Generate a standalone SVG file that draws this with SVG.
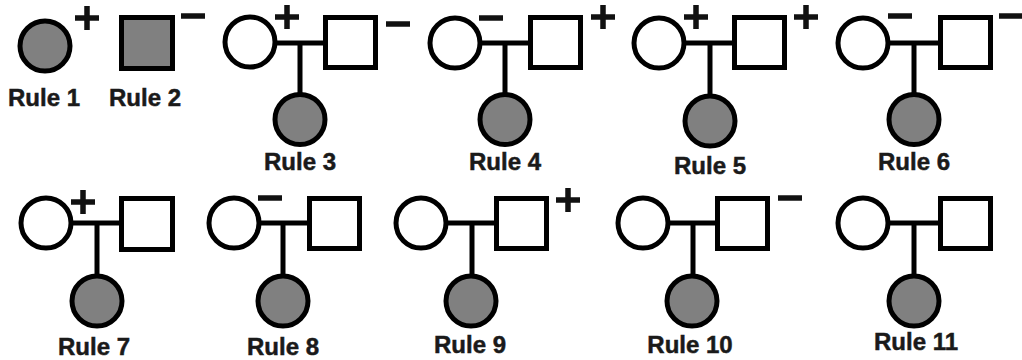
<svg xmlns="http://www.w3.org/2000/svg" xmlns:xlink="http://www.w3.org/1999/xlink" width="1022" height="360" viewBox="0 0 1022 360">
  <style>
    .p { fill: #ffffff; stroke: #000000; stroke-width: 5; }
    .a { fill: #808080; stroke: #000000; stroke-width: 5; }
    .ln { stroke: #000000; stroke-width: 5; fill: none; }
    .sg { stroke: #111111; stroke-width: 5.5; fill: none; }
    .lb { font-family: "Liberation Sans", Arial, sans-serif; font-weight: bold; font-size: 24px; fill: #1a1a1a; stroke: #1a1a1a; stroke-width: 0.5; text-anchor: middle; }
  </style>
  <defs>
    <path id="plus" d="M-12 0H12M0-12V12"/>
    <path id="minus" d="M-12 0H12"/>
  </defs>
  <rect width="1022" height="360" fill="#ffffff"/>

  <!-- connectors: marriage lines and lines of descent -->
  <g id="connectors" class="ln">
    <path d="M275 43H325M300 43V94"/>
    <path d="M480 43H530M505 43V94"/>
    <path d="M684 43H734M710 43V96"/>
    <path d="M888 43H940M914 43V94"/>
    <path d="M71 223H121M97 223V276"/>
    <path d="M259 223H309M283 223V276"/>
    <path d="M446 223H496M472 223V276"/>
    <path d="M668 223H717M693 223V276"/>
    <path d="M888 223H940M914 223V276"/>
  </g>

  <g id="rule1">
    <circle class="a" cx="45" cy="46" r="25"/>
    <use href="#plus" class="sg" x="87" y="18"/>
    <text class="lb" x="44" y="106">Rule 1</text>
  </g>

  <g id="rule2">
    <rect class="a" x="121.5" y="17.5" width="51" height="51"/>
    <use href="#minus" class="sg" x="193" y="16"/>
    <text class="lb" x="145" y="106">Rule 2</text>
  </g>

  <g id="rule3">
    <circle class="p" cx="250" cy="42" r="25"/>
    <rect class="p" x="325.5" y="17.5" width="50" height="50"/>
    <circle class="a" cx="300" cy="119.5" r="25"/>
    <use href="#plus" class="sg" x="287" y="17"/>
    <use href="#minus" class="sg" x="398" y="24"/>
    <text class="lb" x="300" y="170">Rule 3</text>
  </g>

  <g id="rule4">
    <circle class="p" cx="455" cy="43" r="25"/>
    <rect class="p" x="530.5" y="17.5" width="50" height="50"/>
    <circle class="a" cx="505" cy="119.5" r="25"/>
    <use href="#minus" class="sg" x="491" y="18"/>
    <use href="#plus" class="sg" x="603" y="17"/>
    <text class="lb" x="505" y="170">Rule 4</text>
  </g>

  <g id="rule5">
    <circle class="p" cx="659" cy="43" r="25"/>
    <rect class="p" x="734.5" y="17.5" width="50" height="50"/>
    <circle class="a" cx="710" cy="121" r="25"/>
    <use href="#plus" class="sg" x="696" y="17"/>
    <use href="#plus" class="sg" x="806" y="17"/>
    <text class="lb" x="710" y="174">Rule 5</text>
  </g>

  <g id="rule6">
    <circle class="p" cx="863" cy="43" r="25"/>
    <rect class="p" x="940.5" y="17.5" width="50" height="50"/>
    <circle class="a" cx="914" cy="119.5" r="25"/>
    <use href="#minus" class="sg" x="900" y="16"/>
    <use href="#minus" class="sg" x="1011" y="16"/>
    <text class="lb" x="914" y="170">Rule 6</text>
  </g>

  <g id="rule7">
    <circle class="p" cx="46" cy="223" r="25"/>
    <rect class="p" x="121.5" y="198.5" width="51" height="51"/>
    <circle class="a" cx="97" cy="301" r="25"/>
    <use href="#plus" class="sg" x="83" y="202"/>
    <text class="lb" x="94" y="355">Rule 7</text>
  </g>

  <g id="rule8">
    <circle class="p" cx="234" cy="223" r="25"/>
    <rect class="p" x="309.5" y="198.5" width="50" height="50"/>
    <circle class="a" cx="283" cy="301" r="25"/>
    <use href="#minus" class="sg" x="270" y="198"/>
    <text class="lb" x="283" y="355">Rule 8</text>
  </g>

  <g id="rule9">
    <circle class="p" cx="421" cy="223" r="25"/>
    <rect class="p" x="496.5" y="198.5" width="50" height="50"/>
    <circle class="a" cx="471" cy="301" r="25"/>
    <use href="#plus" class="sg" x="568" y="200"/>
    <text class="lb" x="470" y="353">Rule 9</text>
  </g>

  <g id="rule10">
    <circle class="p" cx="643" cy="223" r="25"/>
    <rect class="p" x="717.5" y="198.5" width="50" height="50"/>
    <circle class="a" cx="692" cy="301" r="25"/>
    <use href="#minus" class="sg" x="790" y="198"/>
    <text class="lb" x="690" y="353">Rule 10</text>
  </g>

  <g id="rule11">
    <circle class="p" cx="863" cy="223" r="25"/>
    <rect class="p" x="940.5" y="198.5" width="50" height="50"/>
    <circle class="a" cx="914" cy="301" r="25"/>
    <text class="lb" x="916" y="350">Rule 11</text>
  </g>
</svg>
